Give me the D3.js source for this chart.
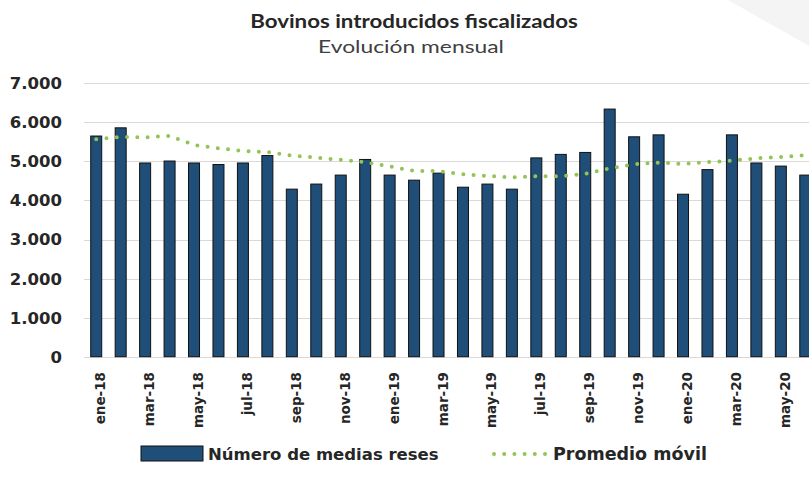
<!DOCTYPE html>
<html>
<head>
<meta charset="utf-8">
<script src="https://cdn.jsdelivr.net/npm/d3@7"></script>
<style>
  html, body { margin: 0; padding: 0; background: #fff; }
  svg { display: block; }
</style>
</head>
<body>
<svg id="chart" width="809" height="490"></svg>
<script>
const months = ["ene-18","feb-18","mar-18","abr-18","may-18","jun-18","jul-18","ago-18","sep-18","oct-18","nov-18","dic-18",
                "ene-19","feb-19","mar-19","abr-19","may-19","jun-19","jul-19","ago-19","sep-19","oct-19","nov-19","dic-19",
                "ene-20","feb-20","mar-20","abr-20","may-20","jun-20"];
const mediasReses = [5650, 5860, 4960, 5010, 4960, 4920, 4960, 5150, 4290, 4420, 4650, 5050,
                     4650, 4520, 4700, 4340, 4420, 4290, 5090, 5180, 5230, 6340, 5630, 5680,
                     4160, 4790, 5680, 4960, 4880, 4650];
const promedioMovil = [5570, 5625, 5615, 5655, 5420, 5335, 5270, 5240, 5150, 5100, 5040, 4980,
                       4870, 4760, 4750, 4670, 4630, 4590, 4620, 4620, 4680, 4820, 4930, 4970,
                       4935, 4980, 5020, 5080, 5110, 5155];
const yTicks = [0, 1000, 2000, 3000, 4000, 5000, 6000, 7000];
const titleText = "Bovinos introducidos fiscalizados";
const subtitleText = "Evolución mensual";
const legendLabels = ["Número de medias reses", "Promedio móvil"];

const svg = d3.select("#chart");
const W = 809, H = 490;

// background decoration
svg.append("polygon")
  .attr("points", "728,0 809,0 809,46")
  .attr("fill", "#f4f4f4");

const x = d3.scaleBand().domain(months).range([84, 84 + 24.45 * months.length]).paddingInner(0.55).paddingOuter(0.275);
const y = d3.scaleLinear().domain([0, 7000]).range([356.7, 83.3]);

// gridlines
svg.append("g").selectAll("line").data(yTicks).join("line")
  .attr("x1", 84).attr("x2", W)
  .attr("y1", d => Math.round(y(d)) + 0.5).attr("y2", d => Math.round(y(d)) + 0.5)
  .attr("stroke", "#d9d9d9").attr("stroke-width", 1);

// y axis labels
const fmt = d3.formatLocale({decimal: ",", thousands: ".", grouping: [3], currency: ["", ""]}).format(",");
svg.append("g").selectAll("text").data(yTicks).join("text")
  .attr("x", 62).attr("y", d => y(d))
  .attr("dy", "0.36em")
  .attr("text-anchor", "end")
  .attr("font-family", "DejaVu Sans, sans-serif")
  .attr("font-weight", "bold")
  .attr("font-size", 16.5)
  .attr("fill", "#262626")
  .text(d => fmt(d));

// bars
svg.append("g").selectAll("rect").data(months).join("rect")
  .attr("x", d => x(d))
  .attr("width", x.bandwidth())
  .attr("y", (d, i) => y(mediasReses[i]))
  .attr("height", (d, i) => y(0) - y(mediasReses[i]))
  .attr("fill", "#1f4e79")
  .attr("stroke", "#111")
  .attr("stroke-width", 1);

// moving average dotted line
const line = d3.line()
  .x((d, i) => x(months[i]) + x.bandwidth() / 2)
  .y(d => y(d));
svg.append("path")
  .datum(promedioMovil)
  .attr("d", line)
  .attr("fill", "none")
  .attr("stroke", "#94c356")
  .attr("stroke-width", 4)
  .attr("stroke-linecap", "round")
  .attr("stroke-dasharray", "0,10.3");

// x labels (every other month)
svg.append("g").selectAll("text").data(months.filter((d, i) => i % 2 === 0)).join("text")
  .attr("transform", d => `translate(${x(d) + x.bandwidth() / 2 + 4},372) rotate(-90)`)
  .attr("text-anchor", "end")
  .attr("dominant-baseline", "central")
  .attr("font-family", "DejaVu Sans, sans-serif")
  .attr("font-weight", "bold")
  .attr("font-size", 13.5)
  .attr("fill", "#262626")
  .text(d => d);

// title + subtitle, horizontally stretched like the reference
function stretchedText(txt, cx, cy, size, weight, fill, targetW) {
  const g = svg.append("g").attr("transform", `translate(${cx},${cy})`);
  const t = g.append("text")
    .attr("x", 0).attr("y", 0)
    .attr("text-anchor", "middle")
    .attr("font-family", "Lato, sans-serif")
    .attr("font-weight", weight)
    .attr("font-size", size)
    .attr("fill", fill)
    .text(txt);
  const w = t.node().getComputedTextLength();
  if (w > 0) t.attr("transform", `scale(${targetW / w},1)`);
}
stretchedText(titleText, 414, 28, 18, "bold", "#262626", 328);
stretchedText(subtitleText, 411, 53, 18, "normal", "#404040", 186);

// legend
const lg = svg.append("g");
lg.append("rect")
  .attr("x", 141).attr("y", 446).attr("width", 62).attr("height", 15)
  .attr("fill", "#1f4e79").attr("stroke", "#111").attr("stroke-width", 1);
lg.append("text")
  .attr("x", 208).attr("y", 454).attr("dy", "0.36em")
  .attr("font-family", "DejaVu Sans, sans-serif").attr("font-weight", "bold")
  .attr("font-size", 16.5).attr("fill", "#262626")
  .text(legendLabels[0]);
lg.append("line")
  .attr("x1", 494).attr("x2", 545).attr("y1", 454).attr("y2", 454)
  .attr("stroke", "#94c356").attr("stroke-width", 4)
  .attr("stroke-linecap", "round").attr("stroke-dasharray", "0,10.2");
lg.append("text")
  .attr("x", 553).attr("y", 454).attr("dy", "0.36em")
  .attr("font-family", "DejaVu Sans, sans-serif").attr("font-weight", "bold")
  .attr("font-size", 17.5).attr("fill", "#262626")
  .text(legendLabels[1]);
</script>
</body>
</html>
